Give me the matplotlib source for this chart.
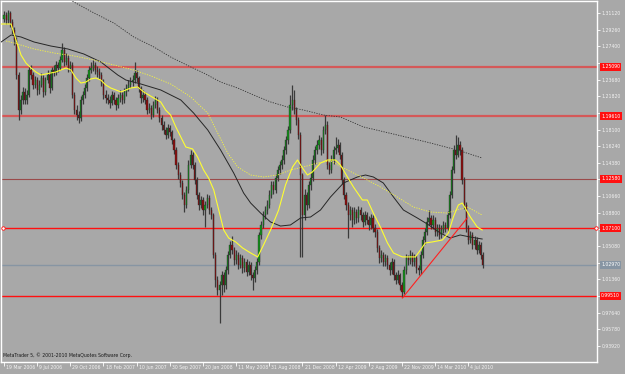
import matplotlib
matplotlib.use("Agg")
import matplotlib.pyplot as plt

BG = "#a8a8a8"

# weekly candles (USD/CHF style), one entry per week starting 19 Mar 2006
opens = [
    1.3050, 1.3090, 1.3034, 1.3112, 1.3012, 1.2922, 1.2810, 1.2419, 1.2028, 1.2140,
    1.2230, 1.2140, 1.2196, 1.2475, 1.2419, 1.2308, 1.2363, 1.2252, 1.2308, 1.2386,
    1.2230, 1.2363, 1.2419, 1.2274, 1.2475, 1.2453, 1.2531, 1.2498, 1.2587, 1.2699,
    1.2565, 1.2609, 1.2498, 1.2531, 1.2196, 1.2028, 1.1972, 1.1939, 1.2140, 1.2196,
    1.2274, 1.2386, 1.2475, 1.2498, 1.2531, 1.2475, 1.2453, 1.2419, 1.2341, 1.2196,
    1.2162, 1.2140, 1.2107, 1.2196, 1.2140, 1.2084, 1.2162, 1.2196, 1.2140, 1.2230,
    1.2274, 1.2308, 1.2341, 1.2363, 1.2442, 1.2386, 1.2274, 1.2162, 1.2196, 1.2140,
    1.2028, 1.2051, 1.1972, 1.2084, 1.2140, 1.2028, 1.1939, 1.1861, 1.1805, 1.1749,
    1.1827, 1.1783, 1.1693, 1.1581, 1.1414, 1.1302, 1.1213, 1.1079, 1.0967, 1.1135,
    1.1414, 1.1526, 1.1414, 1.1246, 1.1079, 1.0967, 1.1023, 1.0911, 1.0967, 1.1045,
    1.0911, 1.0855, 1.0409, 1.0130, 1.0018, 1.0074, 1.0185, 1.0074, 1.0241, 1.0409,
    1.0520, 1.0464, 1.0353, 1.0409, 1.0297, 1.0375, 1.0264, 1.0330, 1.0219, 1.0297,
    1.0185, 1.0152, 1.0241, 1.0330, 1.0632, 1.0744, 1.0855, 1.0911, 1.0967, 1.1079,
    1.1190, 1.1135, 1.1269, 1.1358, 1.1414, 1.1470, 1.1581, 1.1693, 1.1805, 1.2084,
    1.2140, 1.2028, 1.1917, 1.1749, 1.1302, 1.0855, 1.1079, 1.0967, 1.1190, 1.1269,
    1.1470, 1.1581, 1.1637, 1.1693, 1.1581, 1.1805, 1.1861, 1.1414, 1.1358, 1.1470,
    1.1581, 1.1604, 1.1637, 1.1526, 1.1246, 1.1079, 1.0967, 1.0855, 1.0911, 1.0799,
    1.0889, 1.0822, 1.0911, 1.0855, 1.0777, 1.0855, 1.0799, 1.0744, 1.0822, 1.0710,
    1.0665, 1.0487, 1.0375, 1.0409, 1.0330, 1.0375, 1.0297, 1.0241, 1.0330, 1.0185,
    1.0130, 1.0185, 1.0074, 0.9995, 1.0241, 1.0375, 1.0353, 1.0409, 1.0330, 1.0375,
    1.0264, 1.0241, 1.0409, 1.0576, 1.0665, 1.0777, 1.0822, 1.0744, 1.0799, 1.0665,
    1.0710, 1.0632, 1.0688, 1.0744, 1.0710, 1.0855, 1.1079, 1.1358, 1.1581, 1.1526,
    1.1637, 1.1581, 1.1246, 1.0967, 1.0710, 1.0576, 1.0632, 1.0520, 1.0576, 1.0464,
    1.0520, 1.0409,
]
highs = [
    1.3130, 1.3120, 1.3145, 1.3130, 1.3050, 1.2960, 1.2840, 1.2450, 1.2200, 1.2290,
    1.2270, 1.2250, 1.2520, 1.2530, 1.2450, 1.2410, 1.2400, 1.2360, 1.2440, 1.2420,
    1.2400, 1.2480, 1.2450, 1.2510, 1.2530, 1.2580, 1.2570, 1.2630, 1.2776, 1.2730,
    1.2660, 1.2640, 1.2580, 1.2560, 1.2230, 1.2080, 1.2020, 1.2180, 1.2240, 1.2320,
    1.2430, 1.2520, 1.2560, 1.2590, 1.2570, 1.2520, 1.2500, 1.2450, 1.2370, 1.2250,
    1.2210, 1.2190, 1.2240, 1.2230, 1.2170, 1.2210, 1.2250, 1.2230, 1.2270, 1.2320,
    1.2360, 1.2400, 1.2420, 1.2565, 1.2480, 1.2410, 1.2300, 1.2250, 1.2230, 1.2170,
    1.2110, 1.2080, 1.2130, 1.2190, 1.2170, 1.2060, 1.1970, 1.1900, 1.1840, 1.1870,
    1.1860, 1.1810, 1.1720, 1.1610, 1.1450, 1.1340, 1.1250, 1.1110, 1.1180, 1.1470,
    1.1581, 1.1560, 1.1450, 1.1280, 1.1110, 1.1070, 1.1060, 1.1010, 1.1090, 1.1080,
    1.0950, 1.0880, 1.0440, 1.0170, 1.0120, 1.0230, 1.0220, 1.0290, 1.0450, 1.0570,
    1.0621, 1.0500, 1.0460, 1.0440, 1.0420, 1.0410, 1.0380, 1.0360, 1.0340, 1.0330,
    1.0220, 1.0290, 1.0380, 1.0670, 1.0790, 1.0900, 1.0960, 1.1020, 1.1130, 1.1240,
    1.1230, 1.1310, 1.1400, 1.1460, 1.1520, 1.1630, 1.1740, 1.1850, 1.2200, 1.2308,
    1.2250, 1.2060, 1.1950, 1.1780, 1.1330, 1.1150, 1.1110, 1.1240, 1.1320, 1.1520,
    1.1630, 1.1690, 1.1750, 1.1730, 1.1850, 1.1972, 1.1900, 1.1450, 1.1520, 1.1630,
    1.1727, 1.1700, 1.1670, 1.1560, 1.1280, 1.1110, 1.1000, 1.0960, 1.0940, 1.0940,
    1.0920, 1.0960, 1.0950, 1.0890, 1.0900, 1.0890, 1.0840, 1.0870, 1.0850, 1.0750,
    1.0700, 1.0520, 1.0460, 1.0440, 1.0420, 1.0410, 1.0330, 1.0380, 1.0360, 1.0220,
    1.0240, 1.0210, 1.0110, 1.0290, 1.0420, 1.0410, 1.0460, 1.0440, 1.0420, 1.0410,
    1.0300, 1.0450, 1.0620, 1.0710, 1.0830, 1.0911, 1.0860, 1.0850, 1.0830, 1.0760,
    1.0750, 1.0740, 1.0790, 1.0780, 1.0900, 1.1120, 1.1400, 1.1640, 1.1749, 1.1730,
    1.1680, 1.1610, 1.1280, 1.1000, 1.0740, 1.0680, 1.0670, 1.0620, 1.0610, 1.0560,
    1.0550, 1.0440,
]
lows = [
    1.3010, 1.2990, 1.3000, 1.2960, 1.2880, 1.2760, 1.2380, 1.1920, 1.1980, 1.2090,
    1.2100, 1.2090, 1.2170, 1.2370, 1.2260, 1.2270, 1.2200, 1.2210, 1.2280, 1.2170,
    1.2200, 1.2330, 1.2220, 1.2250, 1.2410, 1.2420, 1.2450, 1.2470, 1.2560, 1.2520,
    1.2530, 1.2450, 1.2460, 1.2160, 1.1980, 1.1920, 1.1883, 1.1910, 1.2100, 1.2160,
    1.2240, 1.2350, 1.2440, 1.2460, 1.2430, 1.2400, 1.2370, 1.2300, 1.2150, 1.2110,
    1.2090, 1.2050, 1.2080, 1.2090, 1.2030, 1.2050, 1.2120, 1.2090, 1.2110, 1.2190,
    1.2240, 1.2270, 1.2300, 1.2330, 1.2340, 1.2230, 1.2110, 1.2120, 1.2090, 1.1980,
    1.1990, 1.1930, 1.1950, 1.2050, 1.1990, 1.1890, 1.1810, 1.1760, 1.1700, 1.1720,
    1.1740, 1.1650, 1.1540, 1.1370, 1.1260, 1.1170, 1.1030, 1.0889, 1.0930, 1.1100,
    1.1380, 1.1370, 1.1200, 1.1030, 1.0910, 1.0930, 1.0860, 1.0722, 1.0930, 1.0870,
    1.0810, 1.0370, 1.0050, 0.9960, 0.9649, 0.9960, 0.9990, 1.0030, 1.0200, 1.0370,
    1.0420, 1.0300, 1.0310, 1.0250, 1.0260, 1.0210, 1.0220, 1.0170, 1.0180, 1.0130,
    1.0018, 1.0110, 1.0200, 1.0300, 1.0590, 1.0710, 1.0810, 1.0870, 1.0930, 1.1040,
    1.1090, 1.1100, 1.1230, 1.1310, 1.1370, 1.1430, 1.1540, 1.1650, 1.1770, 1.2030,
    1.1980, 1.1860, 1.1700, 1.0386, 1.0386, 1.0800, 1.0910, 1.0930, 1.1140, 1.1230,
    1.1430, 1.1540, 1.1590, 1.1530, 1.1550, 1.1760, 1.1370, 1.1310, 1.1320, 1.1430,
    1.1540, 1.1560, 1.1480, 1.1200, 1.1030, 1.0910, 1.0598, 1.0800, 1.0720, 1.0760,
    1.0770, 1.0780, 1.0800, 1.0720, 1.0740, 1.0750, 1.0690, 1.0700, 1.0660, 1.0610,
    1.0440, 1.0320, 1.0330, 1.0280, 1.0290, 1.0250, 1.0190, 1.0200, 1.0130, 1.0080,
    1.0090, 1.0020, 0.9939, 0.9970, 1.0200, 1.0300, 1.0310, 1.0280, 1.0290, 1.0210,
    1.0190, 1.0200, 1.0370, 1.0530, 1.0630, 1.0740, 1.0700, 1.0700, 1.0620, 1.0620,
    1.0590, 1.0600, 1.0650, 1.0660, 1.0680, 1.0820, 1.1050, 1.1330, 1.1480, 1.1500,
    1.1530, 1.1200, 1.0920, 1.0660, 1.0530, 1.0540, 1.0470, 1.0480, 1.0420, 1.0430,
    1.0360, 1.0260,
]
closes = [
    1.3090, 1.3034, 1.3112, 1.3012, 1.2922, 1.2810, 1.2419, 1.2028, 1.2140, 1.2230,
    1.2140, 1.2196, 1.2475, 1.2419, 1.2308, 1.2363, 1.2252, 1.2308, 1.2386, 1.2230,
    1.2363, 1.2419, 1.2274, 1.2475, 1.2453, 1.2531, 1.2498, 1.2587, 1.2699, 1.2565,
    1.2609, 1.2498, 1.2531, 1.2196, 1.2028, 1.1972, 1.1939, 1.2140, 1.2196, 1.2274,
    1.2386, 1.2475, 1.2498, 1.2531, 1.2475, 1.2453, 1.2419, 1.2341, 1.2196, 1.2162,
    1.2140, 1.2107, 1.2196, 1.2140, 1.2084, 1.2162, 1.2196, 1.2140, 1.2230, 1.2274,
    1.2308, 1.2341, 1.2363, 1.2442, 1.2386, 1.2274, 1.2162, 1.2196, 1.2140, 1.2028,
    1.2051, 1.1972, 1.2084, 1.2140, 1.2028, 1.1939, 1.1861, 1.1805, 1.1749, 1.1827,
    1.1783, 1.1693, 1.1581, 1.1414, 1.1302, 1.1213, 1.1079, 1.0967, 1.1135, 1.1414,
    1.1526, 1.1414, 1.1246, 1.1079, 1.0967, 1.1023, 1.0911, 1.0967, 1.1045, 1.0911,
    1.0855, 1.0409, 1.0130, 1.0018, 1.0074, 1.0185, 1.0074, 1.0241, 1.0409, 1.0520,
    1.0464, 1.0353, 1.0409, 1.0297, 1.0375, 1.0264, 1.0330, 1.0219, 1.0297, 1.0185,
    1.0152, 1.0241, 1.0330, 1.0632, 1.0744, 1.0855, 1.0911, 1.0967, 1.1079, 1.1190,
    1.1135, 1.1269, 1.1358, 1.1414, 1.1470, 1.1581, 1.1693, 1.1805, 1.2084, 1.2140,
    1.2028, 1.1917, 1.1749, 1.1302, 1.0855, 1.1079, 1.0967, 1.1190, 1.1269, 1.1470,
    1.1581, 1.1637, 1.1693, 1.1581, 1.1805, 1.1861, 1.1414, 1.1358, 1.1470, 1.1581,
    1.1604, 1.1637, 1.1526, 1.1246, 1.1079, 1.0967, 1.0855, 1.0911, 1.0799, 1.0889,
    1.0822, 1.0911, 1.0855, 1.0777, 1.0855, 1.0799, 1.0744, 1.0822, 1.0710, 1.0665,
    1.0487, 1.0375, 1.0409, 1.0330, 1.0375, 1.0297, 1.0241, 1.0330, 1.0185, 1.0130,
    1.0185, 1.0074, 0.9995, 1.0241, 1.0375, 1.0353, 1.0409, 1.0330, 1.0375, 1.0264,
    1.0241, 1.0409, 1.0576, 1.0665, 1.0777, 1.0822, 1.0744, 1.0799, 1.0665, 1.0710,
    1.0632, 1.0688, 1.0744, 1.0710, 1.0855, 1.1079, 1.1358, 1.1581, 1.1526, 1.1637,
    1.1581, 1.1246, 1.0967, 1.0710, 1.0576, 1.0632, 1.0520, 1.0576, 1.0464, 1.0520,
    1.0409, 1.0297,
]

# indicator lines: (bar index, price) vertices
ma_fast_x = [-1.4, 3.4, 5.8, 8.2, 10.6, 13.0, 15.4, 17.8, 20.2, 22.6, 25.0, 27.5, 29.9, 32.3,
             34.7, 37.1, 39.5, 41.9, 44.3, 46.7, 49.1, 51.5, 54.0, 56.4, 61.2, 64.5, 67.4,
             72.3, 75.6, 78.0, 80.4, 82.9, 85.3, 87.7, 91.0, 93.4, 96.3, 98.7, 101.2, 103.6,
             106.0, 108.4, 111.8, 115.1, 119.0, 122.4, 125.2, 128.6, 132.5, 135.8, 139.2,
             141.6, 144.0, 146.4, 148.8, 152.7, 156.1, 159.9, 162.3, 165.7, 168.6, 172.9,
             175.3, 178.2, 181.6, 185.0, 187.9, 192.2, 195.1, 198.5, 200.9, 203.3, 206.6,
             211.5, 214.4, 216.8, 219.2, 221.1, 222.5, 225.0, 228.3, 230.7]
ma_fast_y = [1.2989, 1.2989, 1.2810, 1.2643, 1.2553, 1.2498, 1.2453, 1.2419, 1.2431, 1.2442,
             1.2453, 1.2475, 1.2498, 1.2475, 1.2386, 1.2330, 1.2341, 1.2375, 1.2386, 1.2363,
             1.2308, 1.2274, 1.2252, 1.2230, 1.2274, 1.2286, 1.2230, 1.2162, 1.2118, 1.2028,
             1.1972, 1.1839, 1.1727, 1.1615, 1.1593, 1.1503, 1.1358, 1.1269, 1.1135, 1.0911,
             1.0688, 1.0598, 1.0554, 1.0487, 1.0431, 1.0387, 1.0520, 1.0688, 1.0911, 1.1190,
             1.1392, 1.1470, 1.1381, 1.1302, 1.1336, 1.1436, 1.1470, 1.1470, 1.1414, 1.1280,
             1.1168, 1.1023, 1.1023, 1.0877, 1.0721, 1.0543, 1.0431, 1.0387, 1.0387, 1.0387,
             1.0464, 1.0543, 1.0554, 1.0576, 1.0654, 1.0833, 1.0967, 1.0989, 1.0933, 1.0833,
             1.0721, 1.0688]

ma_slow_x = [1.0, 4.8, 14.5, 24.1, 33.7, 43.4, 53.0, 62.6, 72.3, 80.4, 90.1, 98.3, 103.1,
             107.9, 112.7, 119.0, 125.2, 132.0, 138.2, 144.5, 151.3, 157.5, 165.7, 173.4,
             181.6, 189.8, 197.5, 205.7, 213.9, 218.7, 223.5, 230.7]
ma_slow_y = [1.2799, 1.2777, 1.2710, 1.2665, 1.2632, 1.2587, 1.2531, 1.2475, 1.2397, 1.2319,
             1.2174, 1.1994, 1.1771, 1.1548, 1.1392, 1.1302, 1.1280, 1.1302, 1.1358, 1.1392,
             1.1436, 1.1459, 1.1358, 1.1269, 1.1168, 1.1056, 1.0945, 1.0889, 1.0877, 1.0911,
             1.0945, 1.0855]

ma_mid_x = [-1.4, 3.4, 8.2, 14.5, 22.6, 30.8, 38.5, 46.7, 54.9, 58.8, 66.0, 75.6, 85.3, 91.5,
            98.3, 104.5, 110.8, 115.6, 119.0, 123.8, 128.6, 133.4, 138.2, 143.1, 147.9,
            152.7, 157.5, 163.8, 170.5, 174.4, 178.2, 183.0, 187.9, 192.7, 199.4, 204.2,
            210.5, 215.3, 220.1, 225.0, 230.7]
ma_mid_y = [1.2788, 1.2866, 1.2844, 1.2788, 1.2743, 1.2710, 1.2654, 1.2565, 1.2419, 1.2363,
            1.2319, 1.2252, 1.2140, 1.1994, 1.1805, 1.1581, 1.1325, 1.1101, 1.0989, 1.0877,
            1.0777, 1.0732, 1.0744, 1.0822, 1.0833, 1.0911, 1.1056, 1.1213, 1.1280, 1.1302,
            1.1280, 1.1213, 1.1056, 1.0911, 1.0822, 1.0755, 1.0654, 1.0598, 1.0632, 1.0609,
            1.0587]

ma_long_x = [29.9, 33.7, 43.4, 53.0, 62.6, 72.3, 80.4, 90.1, 96.3, 104.5, 112.7, 120.4, 128.6,
             136.8, 144.5, 154.1, 162.3, 173.4, 189.8, 205.7, 218.7, 230.7]
ma_long_y = [1.3280, 1.3235, 1.3112, 1.3000, 1.2844, 1.2732, 1.2620, 1.2509, 1.2442, 1.2341,
             1.2274, 1.2196, 1.2118, 1.2062, 1.2028, 1.1972, 1.1950, 1.1839, 1.1749, 1.1660,
             1.1581, 1.1492]

levels = [1.2509, 1.1961, 1.1258, 1.0710, 0.9951]
bid_price = 1.0297
trend_x = [192.2, 223.5]
trend_y = [0.9928, 1.0822]

ytick_vals = [1.3112 - 0.0186 * k for k in range(21)]
xtick_pos = [0, 16, 32, 48, 64, 80, 96, 112, 128, 144, 160, 176, 192, 208, 224]
xtick_labels = ["19 Mar 2006", "9 Jul 2006", "29 Oct 2006", "18 Feb 2007", "10 Jun 2007",
                "30 Sep 2007", "20 Jan 2008", "11 May 2008", "31 Aug 2008", "21 Dec 2008",
                "12 Apr 2009", "2 Aug 2009", "22 Nov 2009", "14 Mar 2010", "4 Jul 2010"]

fig = plt.figure(figsize=(6.25, 3.74), dpi=100, facecolor=BG)
ax = fig.add_axes([1 / 625, 12 / 374, 596 / 625, 361 / 374], facecolor=BG)

# candles
for i, (o, h, l, c) in enumerate(zip(opens, highs, lows, closes)):
    ax.vlines(i, l, h, color="#3a3a3a", lw=0.9, zorder=3)
    col = "#12901a" if c >= o else "#8c0c0c"
    bot = min(o, c)
    hgt = max(abs(c - o), 0.0004)
    ax.bar(i, hgt, bottom=bot, width=0.55, color=col, edgecolor="#2a2a2a",
           linewidth=0.25, zorder=4)

ax.plot(ma_long_x, ma_long_y, color="#333333", lw=0.6, ls=(0, (1.5, 1.5)), zorder=5)
ax.plot(ma_mid_x, ma_mid_y, color="#262626", lw=0.7, zorder=5)
ax.plot(ma_slow_x, ma_slow_y, color="#f5f540", lw=0.6, ls=(0, (1.5, 1.5)), zorder=5)
ax.plot(ma_fast_x, ma_fast_y, color="#ffff30", lw=0.8, zorder=5)

# horizontal levels
ax.axhline(levels[0], color="#d45858", lw=1.6, zorder=2)
ax.axhline(levels[1], color="#d45858", lw=1.6, zorder=2)
ax.axhline(levels[2], color="#9a4a4a", lw=0.8, zorder=2)
ax.axhline(levels[3], color="#ff1010", lw=1.0, zorder=2)
ax.axhline(levels[4], color="#ff1010", lw=1.0, zorder=2)
ax.axhline(bid_price, color="#8795a3", lw=1.0, zorder=2)
ax.plot(trend_x, trend_y, color="#ff2020", lw=0.8, zorder=6)
ax.plot([-0.6, 285.6], [levels[3], levels[3]], ls="none", marker="o", ms=2.5,
        mfc="white", mec="#ff1010", mew=0.6, zorder=7, clip_on=False)

ax.set_xlim(-1.45, 286.1)
ax.set_ylim(0.9213, 1.3246)

for s in ax.spines.values():
    s.set_color("white")
    s.set_linewidth(1.0)

# price tags on the right scale hide the tick labels underneath them
tags = [(levels[0], "#ff1010"), (levels[1], "#ff1010"), (levels[2], "#ff1010"),
        (levels[3], "#ff1010"), (levels[4], "#ff1010"), (bid_price, "#8795a3")]
hidden = 0.0075
ax.yaxis.tick_right()
ax.set_yticks(ytick_vals)
ax.set_yticklabels(["" if any(abs(v - t) < hidden for t, _ in tags) else f"{v:.5f}"
                    for v in ytick_vals])
ax.tick_params(axis="y", colors="white", length=2.5, width=0.6, pad=1,
               labelsize=3.3, labelcolor="#f2f2f2")
ax.set_xticks(xtick_pos)
ax.set_xticklabels([])
ax.tick_params(axis="x", colors="white", length=3, width=0.6)
for p, lab in zip(xtick_pos, xtick_labels):
    ax.annotate(lab, xy=(p, 0), xycoords=("data", "axes fraction"), xytext=(1.5, -2.5),
                textcoords="offset points", ha="left", va="top", fontsize=3.3,
                color="#f2f2f2", annotation_clip=False)

for v, fc in tags:
    ax.annotate(f"{v:.5f}", xy=(1, v), xycoords=("axes fraction", "data"),
                xytext=(3, 0), textcoords="offset points", ha="left", va="center",
                fontsize=3.3, color="white", annotation_clip=False,
                bbox=dict(boxstyle="square,pad=0.25", fc=fc, ec="none"))

ax.text(0.003, 0.012, "MetaTrader 5, \u00a9 2001-2010 MetaQuotes Software Corp.",
        transform=ax.transAxes, fontsize=3.3, color="#1a1a1a", ha="left", va="bottom")

fig.savefig("out.png", dpi=100, facecolor=BG)
